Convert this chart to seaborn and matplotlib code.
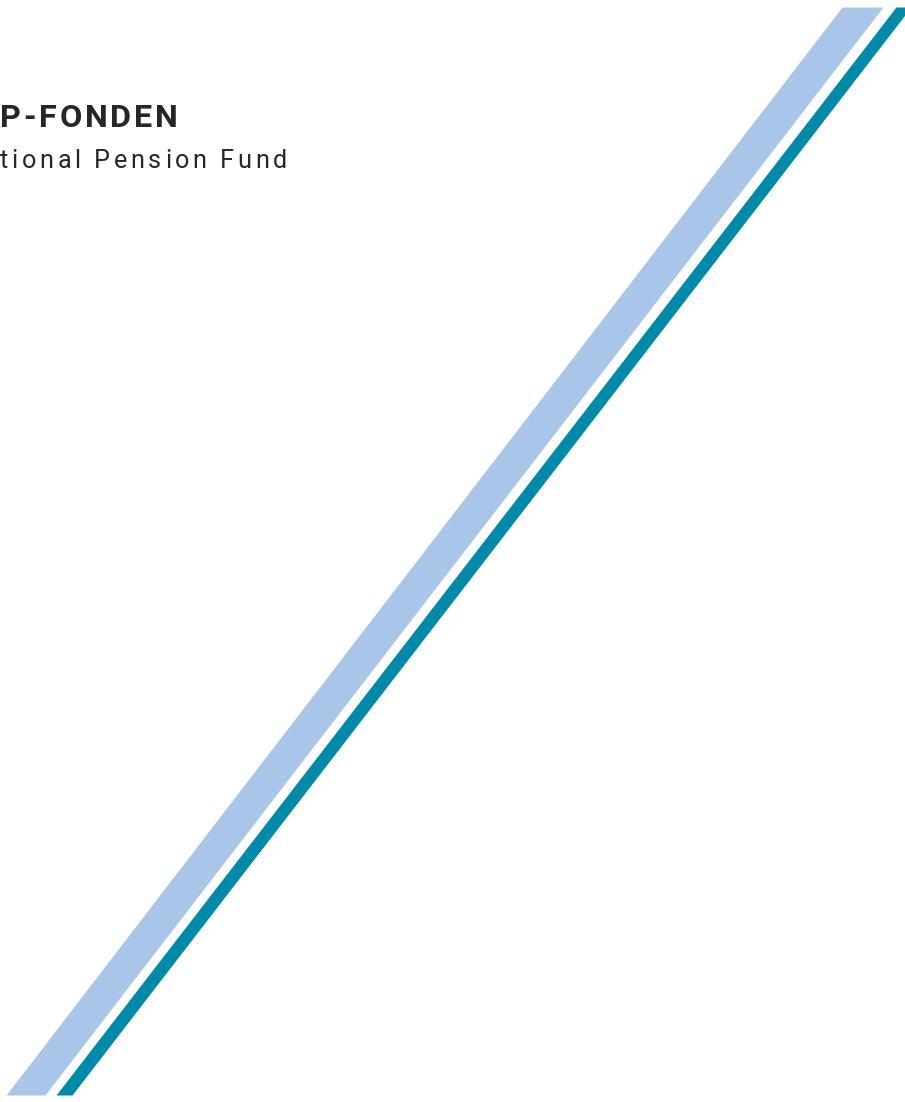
import matplotlib
matplotlib.use("Agg")
import matplotlib.pyplot as plt
import seaborn as sns

# Stripe geometry (pixel coordinates of the page, y downward)
stripe_y = [7, 1095]
light_left = [842, 6]
light_right = [883, 45]
teal_left = [896, 56]
teal_right = [911, 72]

title_text = "P-FONDEN"
subtitle_text = "tional Pension Fund"

LIGHT = "#A9C6E8"
TEAL = "#0089A8"
INK = "#262626"

sns.set_theme(style="white")
plt.rcParams["font.family"] = ["Roboto", "DejaVu Sans"]

fig = plt.figure(figsize=(9.05, 11.02), dpi=100)
ax = fig.add_axes([0, 0, 1, 1])
ax.set_xlim(0, 905)
ax.set_ylim(1102, 0)
ax.axis("off")

ax.fill_betweenx(stripe_y, light_left, light_right, color=LIGHT, lw=0)
ax.fill_betweenx(stripe_y, teal_left, teal_right, color=TEAL, lw=0)

renderer = fig.canvas.get_renderer()


def text_width(s, **kw):
    t = ax.text(0, 0, s, **kw)
    w = t.get_window_extent(renderer).width
    t.remove()
    return w


def tracked_text(x0, y, s, target_w, **kw):
    """Draw a string with extra letter spacing so that it spans target_w px."""
    starts = []
    for i, ch in enumerate(s):
        if ch == " ":
            starts.append(None)
            continue
        starts.append(text_width(s[:i + 1], **kw) - text_width(ch, **kw))
    natural = text_width(s, **kw)
    track = (target_w - natural) / (len(s) - 1)
    for i, ch in enumerate(s):
        if starts[i] is None:
            continue
        ax.text(x0 + starts[i] + i * track, y, ch, ha="left", va="baseline", **kw)


tracked_text(0, 127, title_text, 178, fontsize=23.3, fontweight="bold", color=INK)
tracked_text(0, 168, subtitle_text, 287, fontsize=18.2, fontweight="normal", color=INK)

fig.savefig("out.png", dpi=100)
